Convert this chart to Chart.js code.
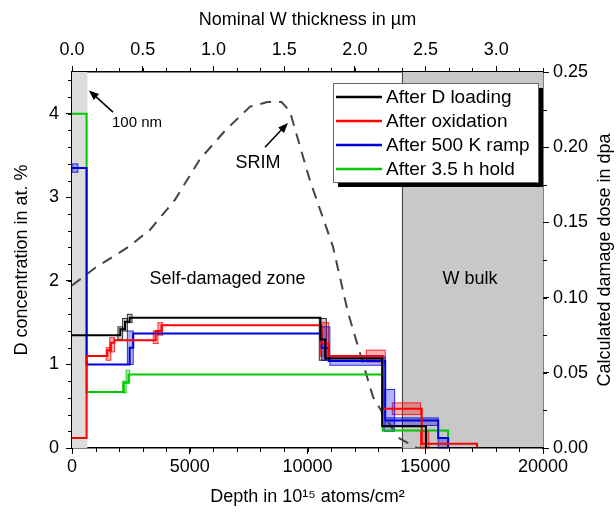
<!DOCTYPE html>
<html>
<head>
<meta charset="utf-8">
<script src="https://cdn.jsdelivr.net/npm/chart.js@4"></script>
<style>
  html, body { margin: 0; padding: 0; background: #fff; }
  canvas { display: block; }
</style>
</head>
<body>
<canvas id="chart" width="616" height="515"></canvas>
<script>
const FONT = '"Liberation Sans", Arial, sans-serif'

// depth profiles: layer edges in 1e15 atoms/cm2, D concentration (at.%) in each layer
const loadingEdges = [0, 2050, 2250, 2450, 10550, 10750, 13170, 15030, 20000]
const loadingConc = [1.35, 1.42, 1.51, 1.56, 1.3, 1.07, 0.26, 0]

const oxidationEdges = [0, 620, 1500, 1650, 1800, 3550, 3800, 10600, 10900, 13200, 14850, 17200, 20000]
const oxidationConc = [0.12, 1.1, 1.17, 1.26, 1.29, 1.4, 1.47, 1.25, 1.1, 0.47, 0.05, 0]

const rampEdges = [0, 620, 2450, 2600, 10600, 10900, 13300, 15550, 15970, 20000]
const rampConc = [3.35, 1.0, 1.2, 1.37, 1.2, 1.04, 0.33, 0.12, 0]

const holdEdges = [0, 620, 2200, 2400, 13200, 15970, 20000]
const holdConc = [4.0, 0.67, 0.78, 0.88, 0.21, 0]

// uncertainty boxes: [series, depth from, depth to, conc low, conc high]
const errorBoxes = [
  [0, 1950, 2150, 1.3, 1.45], [0, 2150, 2350, 1.4, 1.55], [0, 2350, 2550, 1.5, 1.6], [0, 10500, 10800, 1.05, 1.55],
  [1, 1450, 1650, 1.05, 1.2], [1, 1600, 1800, 1.15, 1.32], [1, 3450, 3650, 1.25, 1.4], [1, 3650, 3850, 1.35, 1.5],
  [1, 10550, 10900, 1.1, 1.5], [1, 12500, 13300, 1.03, 1.17], [1, 13600, 14800, 0.4, 0.54], [1, 14800, 15150, 0, 0.2],
  [2, 0, 250, 3.3, 3.4], [2, 2350, 2600, 1.0, 1.4], [2, 10600, 10950, 1.05, 1.45], [2, 10950, 13300, 0.99, 1.09],
  [2, 13250, 13700, 0.2, 0.7], [2, 13300, 15550, 0.27, 0.36], [2, 15550, 15950, 0, 0.12],
  [3, 2150, 2300, 0.66, 0.8], [3, 2300, 2450, 0.78, 0.93],
]

// SRIM damage profile (dpa)
const srimDepth = [0, 1000, 2330, 3310, 4370, 5430, 6500, 7560, 8300, 8900, 9250, 10100, 11080, 11720, 12780, 13200, 13840, 14650, 16500]
const srimDpa = [0.108, 0.12, 0.133, 0.145, 0.165, 0.192, 0.211, 0.227, 0.23, 0.23, 0.224, 0.178, 0.134, 0.09, 0.034, 0.023, 0.007, 0, 0]

const surfaceLayer = [0, 650]   // 100 nm
const bulkRegion = [14000, 20000]

const series = [
  { label: 'After D loading', edges: loadingEdges, conc: loadingConc, color: [0, 0, 0] },
  { label: 'After oxidation', edges: oxidationEdges, conc: oxidationConc, color: [255, 0, 0] },
  { label: 'After 500 K ramp', edges: rampEdges, conc: rampConc, color: [0, 0, 220] },
  { label: 'After 3.5 h hold', edges: holdEdges, conc: holdConc, color: [0, 200, 0] },
]

const rgba = (c, a) => `rgba(${c[0]}, ${c[1]}, ${c[2]}, ${a})`

function toSteps(edges, conc) {
  return edges.map((x, i) => ({ x, y: conc[Math.min(i, conc.length - 1)] }))
}

const datasets = series.map(s => ({
  label: s.label,
  data: toSteps(s.edges, s.conc),
  borderColor: rgba(s.color, 1),
  borderWidth: 2,
  stepped: true,
  pointRadius: 0,
  fill: false,
  xAxisID: 'x',
  yAxisID: 'y',
}))
datasets.push({
  label: 'SRIM',
  data: srimDepth.map((x, i) => ({ x, y: srimDpa[i] })),
  borderColor: '#444',
  borderWidth: 2,
  borderDash: [11, 8],
  tension: 0,
  pointRadius: 0,
  fill: false,
  xAxisID: 'x',
  yAxisID: 'y2',
})

const regions = {
  id: 'regions',
  beforeDatasetsDraw(chart) {
    const { ctx, chartArea: a, scales: { x, y } } = chart
    ctx.save()
    ctx.fillStyle = '#dcdcdc'
    const s1 = x.getPixelForValue(surfaceLayer[1])
    ctx.fillRect(a.left, a.top, s1 - a.left, a.bottom - a.top)
    ctx.fillStyle = '#c8c8c8'
    const b0 = x.getPixelForValue(bulkRegion[0])
    const b1 = x.getPixelForValue(bulkRegion[1])
    ctx.fillRect(b0, a.top, b1 - b0, a.bottom - a.top)
    ctx.strokeStyle = '#444'
    ctx.lineWidth = 1
    ctx.beginPath()
    ctx.moveTo(Math.round(b0) + 0.5, a.top)
    ctx.lineTo(Math.round(b0) + 0.5, a.bottom)
    ctx.stroke()

    errorBoxes.forEach(([si, x0, x1, lo, hi]) => {
      const c = series[si].color
      const px0 = x.getPixelForValue(x0), px1 = x.getPixelForValue(x1)
      const py0 = y.getPixelForValue(hi), py1 = y.getPixelForValue(lo)
      ctx.fillStyle = rgba(si === 0 ? [90, 90, 90] : c, 0.3)
      ctx.fillRect(px0, py0, px1 - px0, py1 - py0)
      ctx.strokeStyle = rgba(c, 0.8)
      ctx.strokeRect(px0, py0, px1 - px0, py1 - py0)
    })
    ctx.restore()
  },
}

function arrow(ctx, x0, y0, x1, y1) {
  const ang = Math.atan2(y1 - y0, x1 - x0)
  ctx.beginPath()
  ctx.moveTo(x0, y0)
  ctx.lineTo(x1 - 6 * Math.cos(ang), y1 - 6 * Math.sin(ang))
  ctx.stroke()
  ctx.beginPath()
  ctx.moveTo(x1, y1)
  ctx.lineTo(x1 - 10 * Math.cos(ang) + 4 * Math.sin(ang), y1 - 10 * Math.sin(ang) - 4 * Math.cos(ang))
  ctx.lineTo(x1 - 10 * Math.cos(ang) - 4 * Math.sin(ang), y1 - 10 * Math.sin(ang) + 4 * Math.cos(ang))
  ctx.closePath()
  ctx.fill()
}

const annotations = {
  id: 'annotations',
  afterDatasetsDraw(chart) {
    const { ctx, scales: { x, y } } = chart
    const px = v => x.getPixelForValue(v)
    const py = v => y.getPixelForValue(v)
    ctx.save()
    ctx.fillStyle = '#000'
    ctx.strokeStyle = '#000'
    ctx.lineWidth = 1.5
    ctx.textAlign = 'center'
    ctx.textBaseline = 'middle'
    ctx.font = `15px ${FONT}`
    ctx.fillText('100 nm', px(2760), py(3.89))
    arrow(ctx, px(1740), py(4.02), px(720), py(4.28))
    ctx.font = `18px ${FONT}`
    ctx.fillText('SRIM', px(7900), py(3.41))
    arrow(ctx, px(8195), py(3.6), px(9170), py(3.89))
    ctx.fillText('Self-damaged zone', px(6600), py(2.02))
    ctx.fillText('W bulk', px(16900), py(2.02))
    ctx.restore()
  },
}

const minorTicks = {
  id: 'minorTicks',
  afterDraw(chart) {
    const { ctx, chartArea: a, scales } = chart
    ctx.save()
    ctx.strokeStyle = '#000'
    ctx.lineWidth = 1
    ctx.beginPath()
    for (let v = 0; v <= 20000; v += 1000) {
      const p = Math.round(scales.x.getPixelForValue(v)) + 0.5
      ctx.moveTo(p, a.bottom); ctx.lineTo(p, a.bottom + 4)
      ctx.moveTo(p, a.top); ctx.lineTo(p, a.top - 4)
    }
    for (let v = 0; v <= 4.5; v += 0.2) {
      const p = Math.round(scales.y.getPixelForValue(v)) + 0.5
      ctx.moveTo(a.left, p); ctx.lineTo(a.left - 4, p)
    }
    for (let v = 0; v <= 0.25; v += 0.025) {
      const p = Math.round(scales.y2.getPixelForValue(v)) + 0.5
      ctx.moveTo(a.right, p); ctx.lineTo(a.right + 4, p)
    }
    ctx.stroke()
    // right axis title reads bottom to top
    ctx.fillStyle = '#000'
    ctx.font = `18px ${FONT}`
    ctx.textAlign = 'center'
    ctx.textBaseline = 'middle'
    ctx.translate(605, (a.top + a.bottom) / 2)
    ctx.rotate(-Math.PI / 2)
    ctx.fillText('Calculated damage dose in dpa', 0, 0)
    ctx.restore()
  },
}

const boxLegend = {
  id: 'boxLegend',
  afterDraw(chart) {
    const { ctx } = chart
    const bx = 333, by = 83, bw = 205, bh = 99
    ctx.save()
    ctx.fillStyle = '#000'
    ctx.fillRect(bx + 5, by + 5, bw, bh)
    ctx.fillStyle = '#fff'
    ctx.fillRect(bx, by, bw, bh)
    ctx.strokeStyle = '#666'
    ctx.lineWidth = 1
    ctx.strokeRect(bx + 0.5, by + 0.5, bw, bh)
    ctx.font = `19px ${FONT}`
    ctx.textBaseline = 'middle'
    ctx.textAlign = 'left'
    series.forEach((s, i) => {
      const ry = by + 14 + i * 24
      ctx.strokeStyle = rgba(s.color, 1)
      ctx.lineWidth = 2.5
      ctx.beginPath()
      ctx.moveTo(bx + 3, ry)
      ctx.lineTo(bx + 49, ry)
      ctx.stroke()
      ctx.fillStyle = '#000'
      ctx.fillText(s.label, bx + 53, ry + 1)
    })
    ctx.restore()
  },
}

const tickFont = { family: FONT, size: 18 }
const axisBase = {
  type: 'linear',
  grid: { drawOnChartArea: false, drawTicks: true, tickLength: 6, color: '#000', tickWidth: 1 },
  border: { display: true, color: '#000', width: 1.5 },
}

new Chart(document.getElementById('chart'), {
  type: 'line',
  data: { datasets },
  plugins: [regions, annotations, minorTicks, boxLegend],
  options: {
    responsive: false,
    animation: false,
    devicePixelRatio: 1,
    layout: { padding: 0 },
    plugins: { legend: { display: false }, tooltip: { enabled: false } },
    scales: {
      x: {
        ...axisBase,
        position: 'bottom',
        min: 0, max: 20000,
        ticks: { stepSize: 5000, includeBounds: false, maxRotation: 0, autoSkip: false, color: '#000', font: tickFont, padding: 2, callback: v => String(v) },
        title: { display: true, text: 'Depth in 10¹⁵ atoms/cm²', color: '#000', font: tickFont, padding: { top: 0, bottom: 7 } },
        afterFit: s => { s.height = 67 },
      },
      x2: {
        ...axisBase,
        position: 'top',
        min: 0, max: 3.33,
        ticks: { stepSize: 0.5, includeBounds: false, maxRotation: 0, autoSkip: false, color: '#000', font: tickFont, padding: 5, callback: v => v.toFixed(1) },
        title: { display: true, text: 'Nominal W thickness in µm', color: '#000', font: tickFont, padding: { top: 9, bottom: 0 } },
        afterFit: s => { s.height = 72 },
      },
      y: {
        ...axisBase,
        position: 'left',
        min: 0, max: 4.5,
        ticks: { stepSize: 1, includeBounds: false, autoSkip: false, color: '#000', font: tickFont, padding: 7 },
        title: { display: true, text: 'D concentration in at. %', color: '#000', font: tickFont, padding: { top: 11, bottom: 0 } },
        afterFit: s => { s.width = 72 },
      },
      y2: {
        ...axisBase,
        position: 'right',
        min: 0, max: 0.25,
        ticks: { stepSize: 0.05, includeBounds: false, autoSkip: false, color: '#000', font: tickFont, padding: 4, callback: v => v.toFixed(2) },
        title: { display: false },
        afterFit: s => { s.width = 73 },
      },
    },
  },
})
</script>
</body>
</html>
